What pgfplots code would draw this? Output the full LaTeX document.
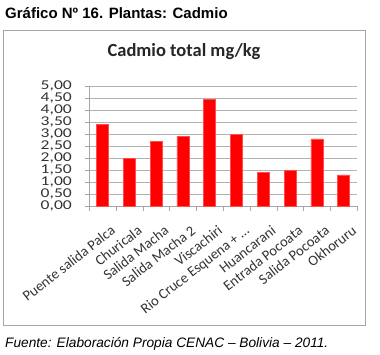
\documentclass[border=0pt]{standalone}
\usepackage{pgfplots}
\pgfplotsset{compat=1.18}
\usepackage{fontspec}
\setmainfont{Liberation Sans}
\newfontfamily\calfont{Carlito}
\begin{document}
\begin{tikzpicture}[x=1pt,y=1pt]
\useasboundingbox (0,0) rectangle (380,-354);
\node[anchor=base west,inner sep=0pt,font=\fontsize{15}{15}\selectfont\bfseries] at (5,-18.5) {Gráfico Nº 16. Plantas: Cadmio};
\draw[gray!70,line width=1pt] (3.5,-30.5) rectangle (365,-325);
\node[font=\calfont\fontsize{18.5}{18.5}\selectfont\bfseries,text=black!85] at (184,-52) {Cadmio total mg/kg};
\node[anchor=base west,inner sep=0pt,font=\fontsize{13.7}{13.7}\selectfont\itshape] at (5,-347) {Fuente: Elaboración Propia CENAC – Bolivia – 2011.};
\begin{axis}[
  at={(89pt,-206pt)}, anchor=south west,
  scale only axis, width=268pt, height=120pt,
  xmin=-0.5, xmax=9.5, ymin=0, ymax=5,
  ytick={0,0.5,...,5},
  axis lines*=left,
  axis line style={gray!70},
  ymajorgrids, grid style={gray!60},
  xtick={0,...,9},
  major x tick style={draw=none},
  minor xtick={-0.5,0.5,...,9.5},
  minor x tick style={gray!70},
  y tick style={gray!70},
  tick align=outside,
  major tick length=4pt, minor tick length=5pt,
  xticklabels={Puente salida Palca,Churicala,Salida Macha,Salida Macha 2,Viscachiri,Rio Cruce Esquena + \ldots,Huancarani,Entrada Pocoata,Salida Pocoata,Okhoruru},
  x tick label style={rotate=38,anchor=north east,font=\calfont\fontsize{14.5}{14.5}\selectfont,text=black!80,inner sep=1pt,yshift=-15pt,xshift=-2pt},
  yticklabel={\scalebox{1.3}[1]{\pgfmathprintnumber{\tick}}},
  y tick label style={font=\calfont\fontsize{13.5}{13.5}\selectfont,text=black!80,inner sep=1pt,xshift=-12pt},
  /pgf/number format/.cd, fixed, fixed zerofill, precision=2, use comma, assume math mode=true,
]
\addplot[ybar, bar width=12pt, fill=red, draw=red!70] coordinates {
(0,3.40) (1,2.00) (2,2.70) (3,2.90) (4,4.45) (5,3.00) (6,1.40) (7,1.50) (8,2.80) (9,1.30)};
\end{axis}
\end{tikzpicture}
\end{document}
